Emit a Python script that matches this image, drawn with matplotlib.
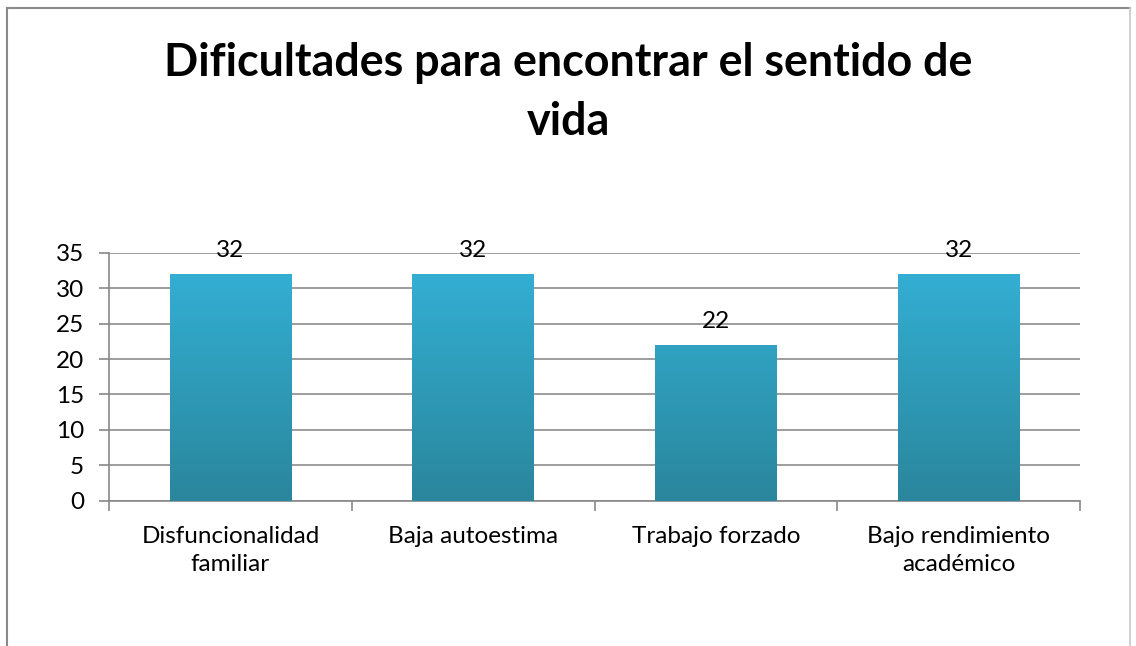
import numpy as np
import matplotlib
matplotlib.use("Agg")
import matplotlib.pyplot as plt
from matplotlib.colors import LinearSegmentedColormap
from matplotlib.lines import Line2D

categories = ["Disfuncionalidad\nfamiliar", "Baja autoestima", "Trabajo forzado", "Bajo rendimiento\nacadémico"]
values = [32, 32, 22, 32]
yticks = [0, 5, 10, 15, 20, 25, 30, 35]
title = "Dificultades para encontrar el sentido de\nvida"

plt.rcParams['font.family'] = ['Lato', 'DejaVu Sans']

fig = plt.figure(figsize=(11.36, 6.46), dpi=100)
ax = fig.add_axes([0.0960, 0.2249, 0.8547, 0.3839])

x = np.arange(len(values))
bars = ax.bar(x, values, width=0.5, color='none', edgecolor='none', zorder=3)

# gradient fill, lighter at top and darker at bottom
cmap = LinearSegmentedColormap.from_list("bar", ["#2a869c", "#34b2d8"])
grad = np.linspace(0, 1, 256).reshape(-1, 1)
for b in bars:
    x0, w = b.get_x(), b.get_width()
    im = ax.imshow(grad, cmap=cmap, origin='lower', aspect='auto',
                   extent=[x0, x0 + w, 0, 35], zorder=3)
    im.set_clip_path(b)

ax.set_xlim(-0.5, len(values) - 0.5)
ax.set_ylim(0, 35)
ax.set_yticks(yticks)
ax.set_yticklabels([str(t) for t in yticks], fontsize=17.5)
ax.set_xticks(x)
ax.set_xticklabels(categories, fontsize=17.5, linespacing=1.45)
ax.tick_params(axis='x', length=0, pad=18)
ax.set_xticks(np.arange(len(values) + 1) - 0.5, minor=True)
ax.tick_params(axis='x', which='minor', length=7, color='#888888', width=1.2)
ax.tick_params(axis='y', length=7, color='#888888', width=1.2, pad=11)

ax.grid(axis='y', color='#8c8c8c', linewidth=1.2, zorder=0)
ax.set_axisbelow(True)
for s in ['top', 'right']:
    ax.spines[s].set_visible(False)
for s in ['left', 'bottom']:
    ax.spines[s].set_color('#888888')
    ax.spines[s].set_linewidth(1.2)

for xi, v in zip(x, values):
    ax.annotate(str(v), (xi, v), xytext=(0, 9), textcoords='offset points',
                ha='center', va='bottom', fontsize=17.5)

fig.text(0.5, 0.857, title, ha='center', va='center', fontsize=32.3,
         fontweight='bold', linespacing=1.5)

# chart area border
fig.add_artist(Line2D([0.0062, 0.0062], [0, 0.9876], color='#8a8a8a', lw=1.5))
fig.add_artist(Line2D([0.0062, 0.9948], [0.9876, 0.9876], color='#8a8a8a', lw=1.5))
fig.add_artist(Line2D([0.9948, 0.9948], [0, 0.9876], color='#c8c8c8', lw=1.2))

fig.savefig("out.png", dpi=100)
